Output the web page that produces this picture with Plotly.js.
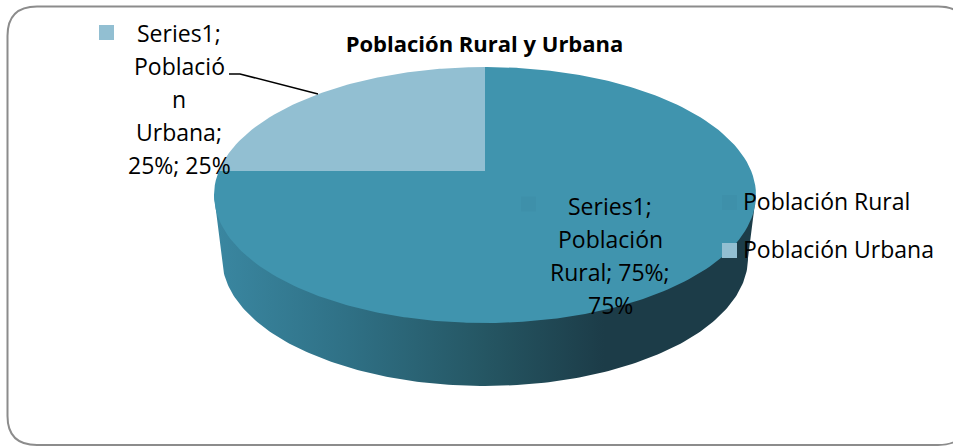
<!DOCTYPE html>
<html>
<head>
<meta charset="utf-8">
<script src="https://cdn.plot.ly/plotly-3.0.1.min.js"></script>
<style>
html, body { margin: 0; padding: 0; background: #fff; }
#chart { width: 953px; height: 446px; }
</style>
</head>
<body>
<div id="chart"></div>
<script>
var categories = ["Población Rural", "Población Urbana"];
var shares = [75, 25];
var seriesName = "Series1";
var sliceColors = ["#4094AE", "#92BFD2"];
var chartTitle = "Población Rural y Urbana";

var fontFamily = "'Open Sans', Lato, sans-serif";

// the pie is seen in perspective, so the apex sits above the middle of the ellipse
var topDisc = { cx: 485, cy: 195, rx: 271, ry: 128 };
var bottomDisc = { cx: 485, cy: 258, rx: 263, ry: 128 };
var apex = { x: 485, y: 171 };

// where a ray from the apex hits the rim, angle in degrees clockwise from 12 o'clock
function rimPoint(deg) {
    var a = deg * Math.PI / 180;
    var dx = Math.sin(a), dy = -Math.cos(a);
    var ox = (apex.x - topDisc.cx) / topDisc.rx, oy = (apex.y - topDisc.cy) / topDisc.ry;
    var vx = dx / topDisc.rx, vy = dy / topDisc.ry;
    var A = vx * vx + vy * vy, B = 2 * (ox * vx + oy * vy), C = ox * ox + oy * oy - 1;
    var t = (-B + Math.sqrt(B * B - 4 * A * C)) / (2 * A);
    return { x: apex.x + t * dx, y: apex.y + t * dy };
}

function sliceTrace(from, to, color, name) {
    var x = [apex.x], y = [apex.y];
    for (var d = from; d <= to + 0.001; d += 1) {
        var p = rimPoint(d);
        x.push(p.x);
        y.push(p.y);
    }
    x.push(apex.x);
    y.push(apex.y);
    return { type: "scatter", mode: "lines", x: x, y: y, fill: "toself", fillcolor: color,
        line: { width: 0, color: color }, name: name, hoverinfo: "name" };
}

// side wall: lower half of the bottom disc, closed under the top disc
var wallX = [topDisc.cx - topDisc.rx], wallY = [topDisc.cy];
for (var t = 180; t >= 0; t -= 1) {
    var r = t * Math.PI / 180;
    wallX.push(bottomDisc.cx + bottomDisc.rx * Math.cos(r));
    wallY.push(bottomDisc.cy + bottomDisc.ry * Math.sin(r));
}
wallX.push(topDisc.cx + topDisc.rx);
wallY.push(topDisc.cy);

var traces = [{
    type: "scatter", mode: "lines", x: wallX, y: wallY, fill: "toself",
    line: { width: 0, color: "#1C3C48" }, hoverinfo: "skip", showlegend: false,
    fillgradient: {
        type: "horizontal",
        colorscale: [[0, "#3A87A1"], [0.25, "#2F7085"], [0.5, "#255663"], [0.72, "#1C3C48"], [1, "#1C3C48"]]
    }
}];

var startAngle = 0;
var total = shares.reduce(function(a, b) { return a + b; }, 0);
categories.forEach(function(c, i) {
    var sweep = shares[i] / total * 360;
    traces.push(sliceTrace(startAngle, startAngle + sweep, sliceColors[i], c));
    startAngle += sweep;
});

// leader line for the urban label
traces.push({ type: "scatter", mode: "lines", x: [229, 240, 318], y: [74, 74, 94],
    line: { color: "#000", width: 1.5 }, hoverinfo: "skip" });

// legend keys and data label keys
traces.push({ type: "scatter", mode: "markers", x: [729.5, 729.5], y: [202.5, 250.5],
    marker: { symbol: "square", size: 15, color: ["#3E90AA", sliceColors[1]] }, hoverinfo: "skip" });
traces.push({ type: "scatter", mode: "markers", x: [106.5, 528.5], y: [32.5, 204],
    marker: { symbol: "square", size: 15, color: [sliceColors[1], "#3E90AA"] }, hoverinfo: "skip" });

function textLine(text, x, y, anchor) {
    return { text: text, x: x, y: y, xref: "x", yref: "y", xanchor: anchor, yanchor: "middle",
        showarrow: false, font: { family: fontFamily, size: 23, color: "#000" } };
}

var urbanLines = [seriesName + ";", "Població", "n", "Urbana;", shares[1] + "%; " + shares[1] + "%"];
var ruralLines = [seriesName + ";", "Población", "Rural; " + shares[0] + "%;", shares[0] + "%"];
var annotations = [];
urbanLines.forEach(function(s, i) { annotations.push(textLine(s, 179, 33 + i * 33, "center")); });
ruralLines.forEach(function(s, i) { annotations.push(textLine(s, 610, 206 + i * 33, "center")); });
categories.forEach(function(c, i) { annotations.push(textLine(c, 741, 201 + i * 48, "left")); });

var layout = {
    width: 953, height: 446,
    margin: { l: 0, r: 0, t: 0, b: 0 },
    paper_bgcolor: "#fff", plot_bgcolor: "#fff",
    showlegend: false,
    title: { text: "<b>" + chartTitle + "</b>", x: 484.5 / 953, y: 1 - 44 / 446, xanchor: "center", yanchor: "middle",
        font: { family: fontFamily, size: 22, color: "#000" } },
    xaxis: { range: [0, 953], visible: false, fixedrange: true },
    yaxis: { range: [446, 0], visible: false, fixedrange: true },
    annotations: annotations,
    shapes: [{
        type: "path", layer: "below", xref: "x", yref: "y",
        path: "M 7.5,36 Q 7.5,6.5 37,6.5 L 938,6.5 Q 968,6.5 968,36 L 968,416 Q 968,445 938,445 L 37,445 Q 7.5,445 7.5,416 Z",
        line: { color: "#8C8C8C", width: 2 }, fillcolor: "rgba(0,0,0,0)"
    }]
};

Plotly.newPlot("chart", traces, layout, { displayModeBar: false, responsive: false });
</script>
</body>
</html>
